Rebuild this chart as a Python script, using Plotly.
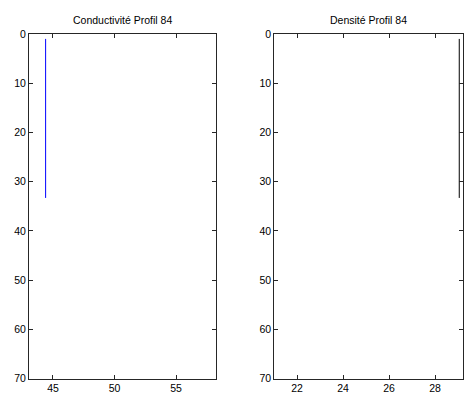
import plotly.graph_objects as go

depth = [1, 5, 10, 15, 20, 25, 30, 33.3]
conductivite = [44.4, 44.4, 44.4, 44.4, 44.4, 44.4, 44.4, 44.4]
densite = [29.05, 29.05, 29.05, 29.05, 29.05, 29.05, 29.05, 29.05]
titles = ["Conductivité Profil 84", "Densité Profil 84"]
y_ticks = [0, 10, 20, 30, 40, 50, 60, 70]
x1_ticks = [45, 50, 55]
x2_ticks = [22, 24, 26, 28]

# page has an 8px body margin; figure is laid out in its own pixel frame
W, H, OFF = 468, 386, 8

fig = go.Figure()
fig.add_trace(go.Scatter(x=conductivite, y=depth, mode="lines",
                         line=dict(color="#0000ff", width=1), xaxis="x", yaxis="y"))
fig.add_trace(go.Scatter(x=densite, y=depth, mode="lines",
                         line=dict(color="#000000", width=1), xaxis="x2", yaxis="y2"))

axcommon = dict(showgrid=False, zeroline=False, showline=True, linecolor="#262626",
                linewidth=1, mirror="ticks", ticks="inside", ticklen=4,
                tickcolor="#262626", tickfont=dict(size=10.5, color="#000000"),
                automargin=False)

def px_x(a, b):
    return [(a - OFF) / W, (b - OFF) / W]

ydom = [1 - (378.6 - OFF) / H, 1 - (34 - OFF) / H]
title_y = 1 - (20 - OFF) / H

fig.update_layout(
    width=W, height=H,
    margin=dict(l=0, r=0, t=0, b=0, pad=0),
    paper_bgcolor="white", plot_bgcolor="white",
    showlegend=False,
    font=dict(family="Liberation Sans, Arial, sans-serif", size=10.5, color="#000000"),
    xaxis=dict(domain=px_x(29, 216), range=[43.05, 58.25], tickvals=x1_ticks,
               anchor="y", **axcommon),
    yaxis=dict(domain=ydom, range=[70, 0], tickvals=y_ticks,
               anchor="x", **axcommon),
    xaxis2=dict(domain=px_x(274.3, 462.7), range=[21.01, 29.2], tickvals=x2_ticks,
                anchor="y2", **axcommon),
    yaxis2=dict(domain=ydom, range=[70, 0], tickvals=y_ticks,
                anchor="x2", **axcommon),
    annotations=[
        dict(text=titles[0], x=((29 + 216) / 2 - OFF) / W, y=title_y,
             xref="paper", yref="paper", showarrow=False, font=dict(size=10.5),
             xanchor="center", yanchor="middle"),
        dict(text=titles[1], x=((274.3 + 462.7) / 2 - OFF) / W, y=title_y,
             xref="paper", yref="paper", showarrow=False, font=dict(size=10.5),
             xanchor="center", yanchor="middle"),
    ],
)

fig.write_html("out.html")
